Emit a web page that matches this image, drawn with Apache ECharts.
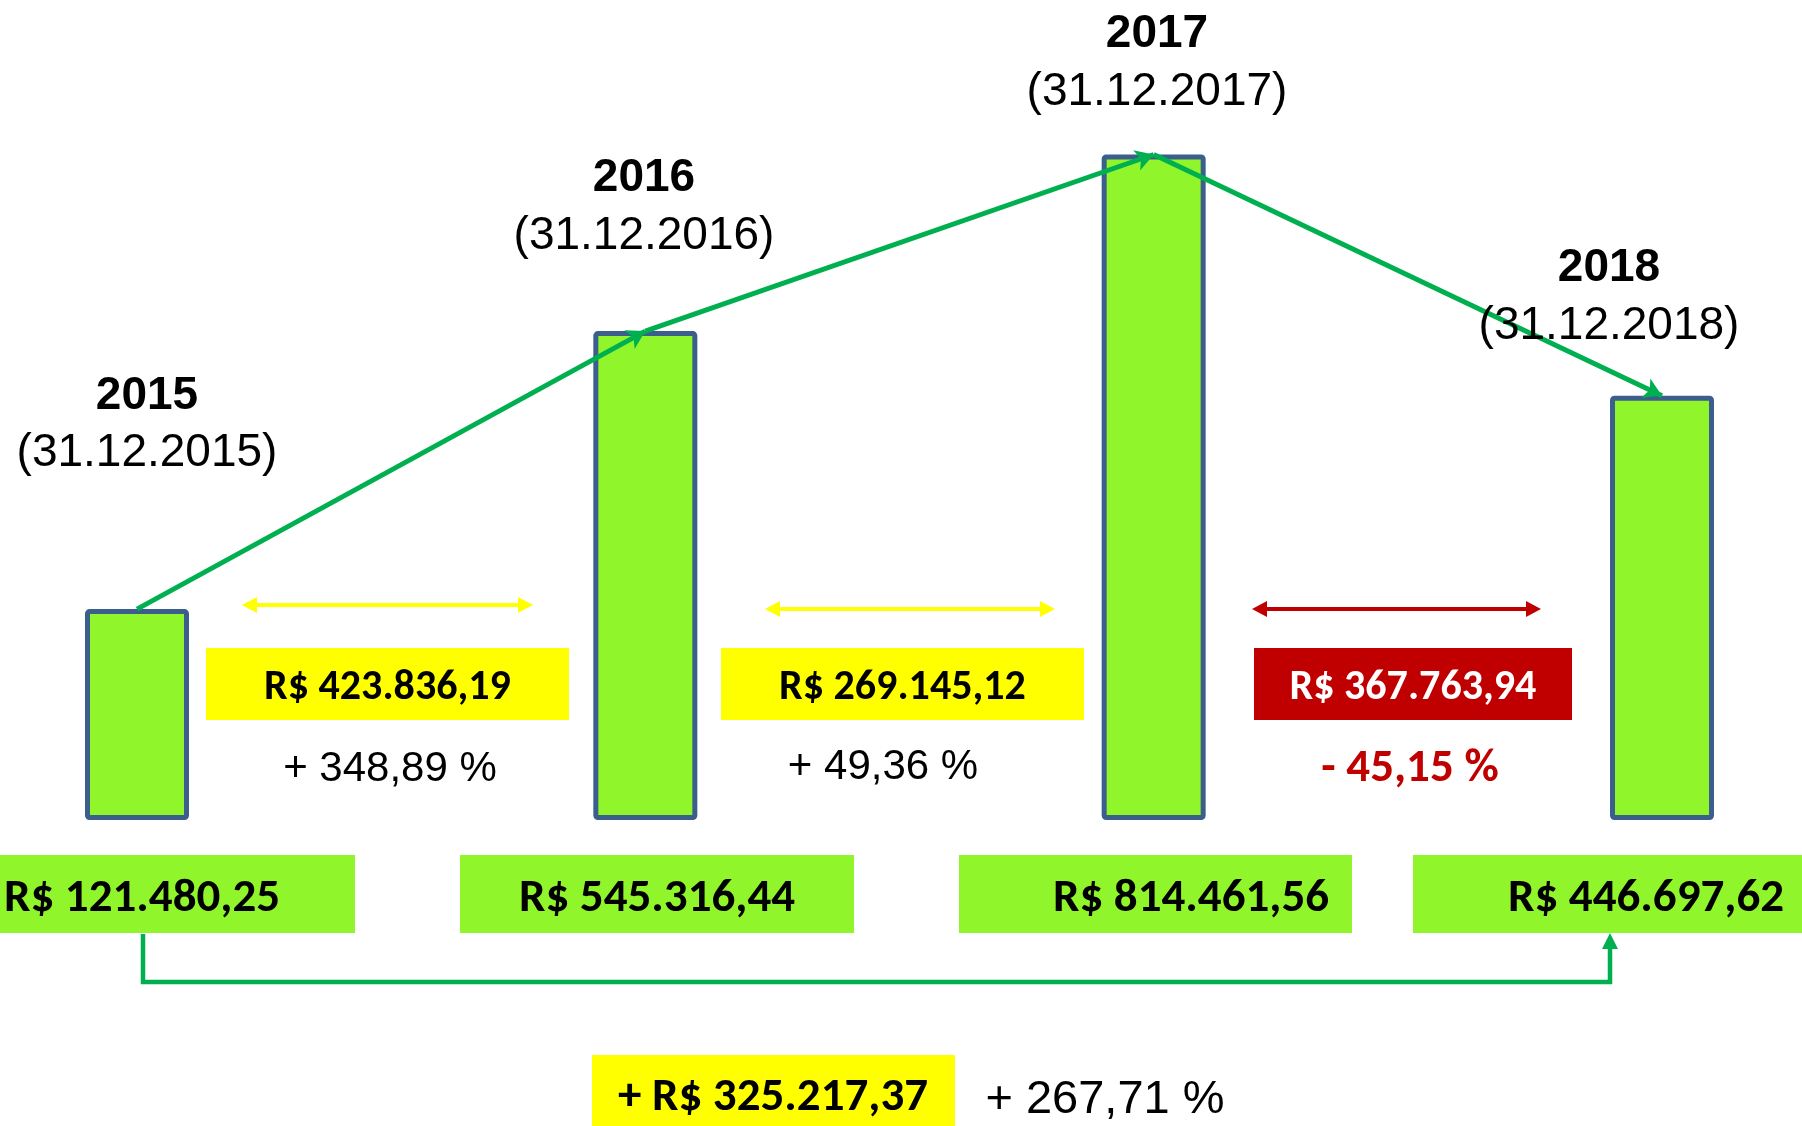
<!DOCTYPE html>
<html>
<head>
<meta charset="utf-8">
<title>Evolução 2015 - 2018</title>
<script src="https://cdn.jsdelivr.net/npm/echarts@6/dist/echarts.min.js"></script>
<style>
html, body { margin: 0; padding: 0; background: #fff; }
#chart { width: 1802px; height: 1126px; }
</style>
</head>
<body>
<div id="chart"></div>
<script>
// dados
const years = ['2015', '2016', '2017', '2018']
const dates = ['(31.12.2015)', '(31.12.2016)', '(31.12.2017)', '(31.12.2018)']
const totals = [121480.25, 545316.44, 814461.56, 446697.62]

const GREEN = '#00B050'
const BAR = '#91F52B'
const YELLOW = '#FFFF00'
const RED = '#C00000'
const ARIAL = '"Liberation Sans", Arial, sans-serif'
const CALIBRI = 'Carlito, Lato, sans-serif'

// formata em reais: R$ 121.480,25
function brl (v) {
  let s = Math.abs(v).toFixed(2).split('.')
  return 'R$ ' + s[0].replace(/\B(?=(\d{3})+(?!\d))/g, '.') + ',' + s[1]
}
function pct (diff, base) {
  return (diff >= 0 ? '+ ' : '- ') + (Math.abs(diff) / base * 100).toFixed(2).replace('.', ',') + ' %'
}

function text (x, y, str, size, weight, family, color) {
  return {
    type: 'text', x: x, y: y, z: 10,
    style: { text: str, align: 'center', verticalAlign: 'middle', fontSize: size, fontWeight: weight, fontFamily: family, fill: color }
  }
}
function rect (x1, x2, y1, y2, color) {
  return { type: 'rect', shape: { x: x1, y: y1, width: x2 - x1, height: y2 - y1 }, style: { fill: color } }
}
// seta dupla horizontal
function dblArrow (x1, x2, y, color) {
  return [
    { type: 'line', shape: { x1: x1 + 10, y1: y, x2: x2 - 10, y2: y }, style: { stroke: color, lineWidth: 4 } },
    { type: 'polygon', shape: { points: [[x1, y], [x1 + 15, y - 8], [x1 + 15, y + 8]] }, style: { fill: color } },
    { type: 'polygon', shape: { points: [[x2, y], [x2 - 15, y - 8], [x2 - 15, y + 8]] }, style: { fill: color } }
  ]
}

// posições das anotações (layout)
const headPos = [[147, 396, 453], [644, 178, 236], [1157, 34, 92], [1609, 268, 326]]
const diffBox = [[206, 569], [721, 1084], [1254, 1572]]
const diffArrow = [[242, 533, 605], [765, 1055, 609], [1252, 1541, 609]]
const diffPct = [[390, 769], [883, 767], [1410, 769]]
const valBox = [[0, 355, 142], [460, 854, 657], [959, 1352, 1191], [1413, 1802, 1646]]

let graphics = []
years.forEach((y, i) => {
  let p = headPos[i]
  graphics.push(text(p[0], p[1], y, 46, 'bold', ARIAL, '#000'))
  graphics.push(text(p[0], p[2], dates[i], 46, 'normal', ARIAL, '#000'))
  let b = valBox[i]
  graphics.push(rect(b[0], b[1], 855, 933, BAR))
  graphics.push(text(b[2], 899, brl(totals[i]), 47, 'bold', CALIBRI, '#000'))
})
for (let i = 0; i < 3; i++) {
  let diff = totals[i + 1] - totals[i]
  let neg = diff < 0
  let b = diffBox[i]
  let a = diffArrow[i]
  graphics = graphics.concat(dblArrow(a[0], a[1], a[2], neg ? RED : YELLOW))
  graphics.push(rect(b[0], b[1], 648, 720, neg ? RED : YELLOW))
  graphics.push(text((b[0] + b[1]) / 2, 688, brl(diff), 42, 'bold', CALIBRI, neg ? '#fff' : '#000'))
  let p = diffPct[i]
  if (neg) {
    graphics.push(text(p[0], p[1], pct(diff, totals[i]), 47, 'bold', CALIBRI, RED))
  } else {
    graphics.push(text(p[0], p[1], pct(diff, totals[i]), 42, 'normal', ARIAL, '#000'))
  }
}
// variação total 2015 -> 2018
let total = totals[3] - totals[0]
graphics.push({ type: 'polyline', shape: { points: [[143, 934], [143, 982], [1610, 982], [1610, 946]] }, style: { stroke: GREEN, lineWidth: 4.5, fill: null } })
graphics.push({ type: 'polygon', shape: { points: [[1610, 933], [1602, 949], [1618, 949]] }, style: { fill: GREEN } })
graphics.push(rect(592, 955, 1055, 1126, YELLOW))
graphics.push(text(773, 1098, '+ ' + brl(total), 47, 'bold', CALIBRI, '#000'))
graphics.push(text(1105, 1100, pct(total, totals[0]), 47, 'normal', ARIAL, '#000'))

// setas entre os topos das barras
let arrows = []
for (let i = 0; i < 3; i++) {
  arrows.push([{ coord: [years[i], totals[i]] }, { coord: [years[i + 1], totals[i + 1]] }])
}

let myChart = echarts.init(document.getElementById('chart'))
myChart.setOption({
  animation: false,
  backgroundColor: '#fff',
  grid: { left: 137, right: 140, top: 0, bottom: 306 },
  xAxis: { type: 'category', data: years, boundaryGap: false, show: false },
  yAxis: { type: 'value', min: -200000, max: 1050000, startValue: -200000, show: false },
  series: [{
    type: 'bar',
    data: totals,
    barWidth: 104,
    clip: false,
    itemStyle: { color: BAR, borderColor: '#3B5E8C', borderWidth: 5, borderRadius: 2 },
    markLine: {
      silent: true,
      symbol: ['none', 'arrow'],
      symbolSize: [16, 18],
      label: { show: false },
      lineStyle: { color: GREEN, width: 5, type: 'solid' },
      data: arrows
    }
  }],
  graphic: graphics
})
</script>
</body>
</html>
